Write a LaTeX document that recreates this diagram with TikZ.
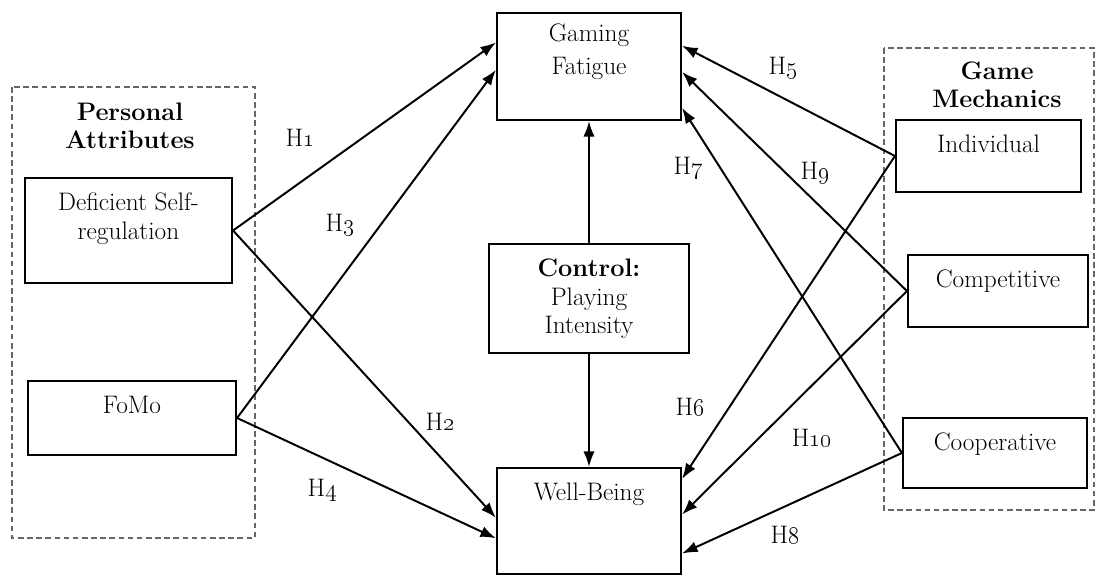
\documentclass[tikz,border=0pt]{standalone}
\usetikzlibrary{arrows.meta,calc}
\begin{document}
\begin{tikzpicture}[x=0.025cm,y=-0.025cm,
    font=\fontsize{18}{20}\selectfont,
    box/.style={draw,line width=1.5pt,inner sep=0pt},
    group/.style={draw=black!60,line width=1.6pt,dash pattern=on 4pt off 2.5pt},
    toptext/.style={anchor=north,yshift=-0.4cm,inner sep=0pt,align=center},
    hyp/.style={-{Latex[length=11pt,width=8pt]},line width=1.4pt}]
  \useasboundingbox (0,0) rectangle (1098,577);
  % Группы
  \draw[group] (12,87) rectangle (255,538);
  \draw[group] (884,48) rectangle (1094,510);
  \node[font=\fontsize{18}{20}\selectfont\bfseries,align=center] (pa) at (130,126) {Personal\\Attributes};
  \node[font=\fontsize{18}{20}\selectfont\bfseries,align=center] (gm) at (997,85) {Game\\Mechanics};
  % Блоки
  \node[box,minimum width=4.6cm,minimum height=2.675cm,label={[toptext,yshift=0.1cm]north:Gaming\\[0.12cm]Fatigue}] (gf) at (589,66.5) {};
  \node[box,minimum width=4.6cm,minimum height=2.65cm,label={[toptext]north:Well-Being}] (wb) at (589,521) {};
  \node[box,minimum width=5cm,minimum height=2.725cm,label={[toptext]north:\textbf{Control:}\\Playing\\Intensity}] (ctrl) at (589,298.5) {};
  \node[box,minimum width=5.175cm,minimum height=2.625cm,label={[toptext]north:Deficient Self-\\regulation}] (dsr) at (128.5,230.5) {};
  \node[box,minimum width=5.2cm,minimum height=1.85cm,label={[toptext]north:FoMo}] (fomo) at (132,418) {};
  \node[box,minimum width=4.625cm,minimum height=1.8cm,label={[toptext]north:Individual}] (ind) at (988.5,156) {};
  \node[box,minimum width=4.5cm,minimum height=1.8cm,label={[toptext]north:Competitive}] (comp) at (998,291) {};
  \node[box,minimum width=4.6cm,minimum height=1.75cm,label={[toptext]north:Cooperative}] (coop) at (995,453) {};
  % Связи
  \draw[hyp] (dsr.east) -- ($(gf.north west)!0.28!(gf.south west)$);
  \draw[hyp] (dsr.east) -- ($(wb.north west)!0.47!(wb.south west)$);
  \draw[hyp] (fomo.east) -- ($(gf.north west)!0.53!(gf.south west)$);
  \draw[hyp] (fomo.east) -- ($(wb.north west)!0.66!(wb.south west)$);
  \draw[hyp] (ind.west) -- ($(gf.north east)!0.31!(gf.south east)$);
  \draw[hyp] (ind.west) -- ($(wb.north east)!0.11!(wb.south east)$);
  \draw[hyp] (comp.west) -- ($(gf.north east)!0.55!(gf.south east)$);
  \draw[hyp] (comp.west) -- ($(wb.north east)!0.44!(wb.south east)$);
  \draw[hyp] (coop.west) -- ($(gf.north east)!0.88!(gf.south east)$);
  \draw[hyp] (coop.west) -- ($(wb.north east)!0.80!(wb.south east)$);
  \draw[hyp] (ctrl.north) -- (gf.south);
  \draw[hyp] (ctrl.south) -- (wb.north);
  % Метки гипотез
  \foreach \n/\x/\y in {1/300/138,2/440/422,3/340/225,4/322/490,5/783/68,
                        6/690/407,7/688/168,8/785/535,9/815/173,10/812/438}{
    \node (h\n) at (\x,\y) {H\oldstylenums{\n}};}
\end{tikzpicture}
\end{document}
